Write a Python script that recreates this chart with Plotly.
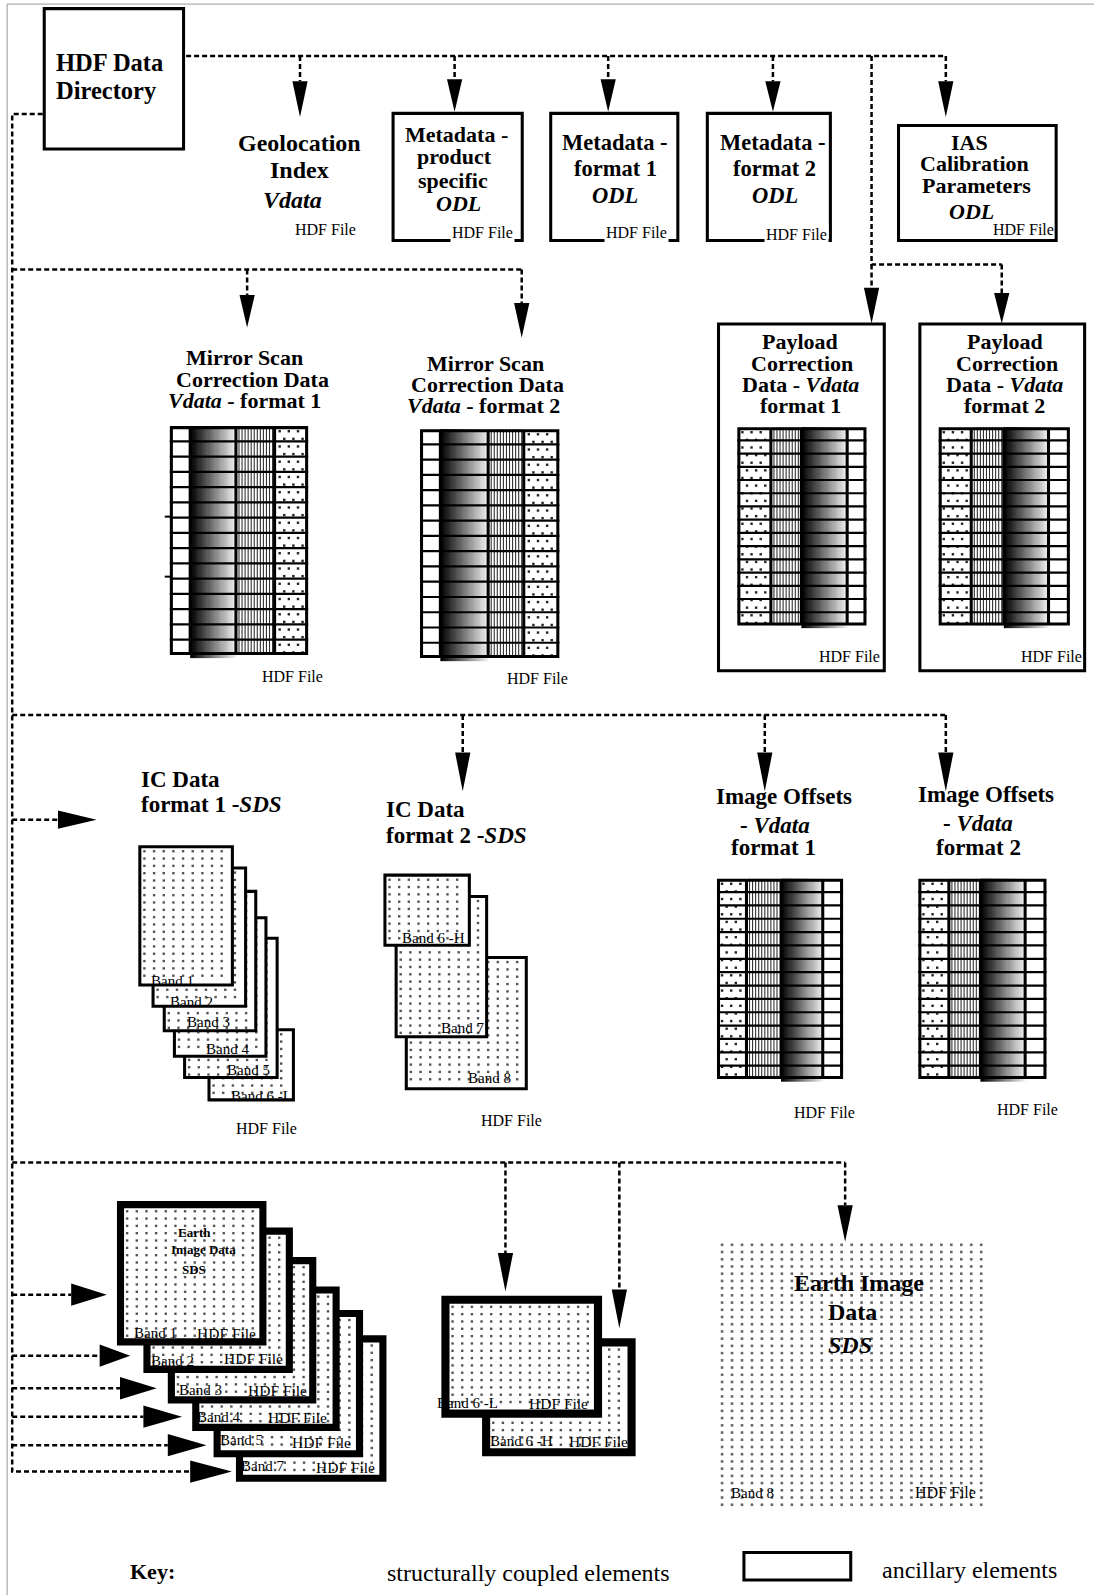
import numpy as np
import plotly.graph_objects as go

# ---------------- text content ----------------
directory_lines = ["HDF Data", "Directory"]
geolocation_lines = ["Geolocation", "Index", "<i>Vdata</i>"]
meta_product_lines = ["Metadata -", "product", "specific", "<i>ODL</i>"]
meta_fmt1_lines = ["Metadata -", "format 1", "<i>ODL</i>"]
meta_fmt2_lines = ["Metadata -", "format 2", "<i>ODL</i>"]
ias_lines = ["IAS", "Calibration", "Parameters", "<i>ODL</i>"]
mirror1_lines = ["Mirror Scan", "Correction Data", "<i>Vdata</i> - format 1"]
mirror2_lines = ["Mirror Scan", "Correction Data", "<i>Vdata</i> - format 2"]
payload1_lines = ["Payload", "Correction", "Data - <i>Vdata</i>", "format 1"]
payload2_lines = ["Payload", "Correction", "Data - <i>Vdata</i>", "format 2"]
ic1_lines = ["IC Data", "format 1 -<i>SDS</i>"]
ic2_lines = ["IC Data", "format 2 -<i>SDS</i>"]
offsets1_lines = ["Image Offsets", "- <i>Vdata</i>", "format 1"]
offsets2_lines = ["Image Offsets", "- <i>Vdata</i>", "format 2"]
earth_big_lines = ["Earth Image", "Data", "<i>SDS</i>"]
earth_small_lines = ["Earth", "Image Data", "SDS"]
ic1_bands = ["Band 1", "Band 2", "Band 3", "Band 4", "Band 5", "Band 6 -L"]
ic2_bands = ["Band 6 -H", "Band 7", "Band 8"]
earth_bands = ["Band 1", "Band 2", "Band 3", "Band 4", "Band 5", "Band 7"]
earth6_bands = ["Band 6 -L", "Band 6 -H"]
earth_big_band = "Band 8"
file_label = "HDF File"
key_labels = ["Key:", "structurally coupled elements", "ancillary elements"]
rows_per_table = 15

# ---------------- page geometry ----------------
SCALE = 1.017
PAGE_W, PAGE_H = 1094, 1595
XMAX, YMAX = PAGE_W / SCALE, PAGE_H / SCALE
FONT = "Liberation Serif"

traces = []
annotations = []


def _path(polys):
    xs, ys = [], []
    for p in polys:
        for x, y in p:
            xs.append(x)
            ys.append(y)
        xs.append(None)
        ys.append(None)
    return xs, ys


def add_lines(polys, width, color="black", dash=None):
    xs, ys = _path(polys)
    traces.append(go.Scatter(x=xs, y=ys, mode="lines",
                             line=dict(color=color, width=width, dash=dash),
                             hoverinfo="skip"))


def add_fill(polys, color):
    xs, ys = _path(polys)
    traces.append(go.Scatter(x=xs, y=ys, mode="lines", fill="toself",
                             fillcolor=color, line=dict(width=0, color=color),
                             hoverinfo="skip"))


def rect(x0, y0, x1, y1):
    return [(x0, y0), (x1, y0), (x1, y1), (x0, y1), (x0, y0)]


def frame(x0, y0, x1, y1, t):
    return [rect(x0, y0, x1, y0 + t), rect(x0, y1 - t, x1, y1),
            rect(x0, y0, x0 + t, y1), rect(x1 - t, y0, x1, y1)]


def add_dots(x0, y0, x1, y1, dx, dy, size, color, stagger=False):
    xs, ys = [], []
    for j, y in enumerate(np.arange(y0, y1, dy)):
        off = dx / 2 if (stagger and j % 2) else 0
        for x in np.arange(x0 + off, x1, dx):
            xs.append(x)
            ys.append(y)
    traces.append(go.Scatter(x=xs, y=ys, mode="markers",
                             marker=dict(size=size, color=color, symbol="square",
                                         line=dict(width=0)),
                             hoverinfo="skip"))


def add_page(box, t):
    x0, y0, x1, y1 = box
    add_fill([rect(x0, y0, x1, y1)], "black")
    add_fill([rect(x0 + t, y0 + t, x1 - t, y1 - t)], "white")
    add_dots(x0 + t + 3, y0 + t + 3, x1 - t - 1, y1 - t - 1, 9.5, 7.2, 2.4, "#555")


def add_table(cols, y0, y1, n):
    left = min(c[1] for c in cols)
    right = max(c[2] for c in cols)
    for kind, a, b in cols:
        if kind == "grad":
            edges = np.linspace(a, b, 41)
            traces.append(go.Heatmap(x=edges, y=[y0, y1 + 3],
                                     z=[list(np.linspace(0, 1, 40))],
                                     colorscale=[[0, "#000000"], [1, "#f2f2f2"]],
                                     zmin=0, zmax=1, showscale=False,
                                     hoverinfo="skip"))
        elif kind == "stripe":
            add_lines([[(x, y0), (x, y1)] for x in np.arange(a + 3, b - 1.5, 3.0)],
                      1.1, "#333")
        elif kind == "dots":
            add_dots(a + 5, y0 + 5, b - 3, y1 - 2, 9, 7.5, 2.4, "#222", stagger=True)
    ys = np.linspace(y0, y1, n + 1)
    add_lines([[(left, y), (right, y)] for y in ys[1:-1]], 2.2)
    edges_x = sorted(set([c[1] for c in cols] + [c[2] for c in cols]))
    add_fill(frame(left, y0, right, y1, 3) +
             [rect(x - 1.5, y0, x + 1.5, y1) for x in edges_x[1:-1]], "black")


def text(s, x, y, size, bold=True, anchor="center", bg=None):
    t = f"<b>{s}</b>" if bold else s
    ann = dict(x=x, y=y, xref="x", yref="y", text=t, showarrow=False,
               xanchor=anchor, yanchor="middle",
               font=dict(family=FONT, size=size, color="black"))
    if bg:
        ann["bgcolor"] = bg
        ann["borderpad"] = 1
    annotations.append(ann)


def block(lines, pos, size, bold=True, anchor="center"):
    for s, (x, y) in zip(lines, pos):
        text(s, x, y, size, bold, anchor)


# ---------------- outer frame ----------------
add_lines([[(7, YMAX), (7, 4), (XMAX, 4)]], 1, "#999")

# ---------------- ancillary boxes ----------------
ancillary_boxes = [(42, 7, 182, 148), (385, 110, 515, 238), (540, 110, 668, 238),
                   (694, 110, 818, 238), (882, 122, 1040, 238),
                   (705, 317, 871, 661), (903, 317, 1068, 661),
                   (730, 1525, 838, 1555)]
polys = []
for b in ancillary_boxes:
    polys += frame(*b, 3)
add_fill(polys, "black")

# ---------------- dashed connectors ----------------
connectors = [
    [(183, 55), (930, 55)],
    [(295, 55), (295, 80)], [(447, 55), (447, 78)], [(598, 55), (598, 78)],
    [(760, 55), (760, 80)], [(930, 55), (930, 80)],
    [(857, 55), (857, 260), (985, 260)],
    [(857, 260), (857, 283)], [(985, 260), (985, 288)],
    [(42, 112), (12, 112), (12, 1447), (187, 1447)],
    [(12, 265), (513, 265)], [(243, 265), (243, 290)], [(513, 265), (513, 298)],
    [(12, 703), (930, 703)], [(455, 703), (455, 740)], [(752, 703), (752, 740)],
    [(930, 703), (930, 740)],
    [(12, 806), (57, 806)],
    [(12, 1143), (831, 1143)], [(497, 1143), (497, 1232)], [(609, 1143), (609, 1268)],
    [(831, 1143), (831, 1185)],
    [(12, 1273), (70, 1273)], [(12, 1333), (98, 1333)], [(12, 1365), (118, 1365)],
    [(12, 1393), (141, 1393)], [(12, 1421), (165, 1421)],
]
add_lines(connectors, 2.5, "black", dash="5px,3px")

down_heads = [(295, 80, 115), (447, 78, 110), (598, 78, 110), (760, 80, 110),
              (930, 80, 115), (243, 290, 322), (513, 298, 332), (857, 283, 318),
              (985, 288, 318), (455, 740, 778), (752, 740, 778), (930, 740, 778),
              (497, 1232, 1270), (609, 1268, 1306), (831, 1185, 1221)]
right_heads = [(806, 57, 95, 9), (1273, 70, 105, 11), (1333, 98, 128, 11),
               (1365, 118, 154, 11), (1393, 141, 179, 11), (1421, 165, 203, 11),
               (1447, 187, 228, 11)]
heads = [[(x - 7.5, a), (x + 7.5, a), (x, b), (x - 7.5, a)] for x, a, b in down_heads]
heads += [[(a, y - h), (b, y), (a, y + h), (a, y - h)] for y, a, b, h in right_heads]
add_fill(heads, "black")

# ---------------- tables ----------------
tables = [
    ([("white", 167, 187), ("grad", 187, 232), ("stripe", 232, 270), ("dots", 270, 303)], 419, 644),
    ([("white", 413, 433), ("grad", 433, 480), ("stripe", 480, 515), ("dots", 515, 550)], 422, 647),
    ([("dots", 725, 758), ("stripe", 758, 788), ("grad", 788, 833), ("white", 833, 852)], 420, 615),
    ([("dots", 923, 955), ("stripe", 955, 987), ("grad", 987, 1031), ("white", 1031, 1052)], 420, 615),
    ([("dots", 705, 734), ("stripe", 734, 768), ("grad", 768, 809), ("white", 809, 829)], 864, 1061),
    ([("dots", 903, 933), ("stripe", 933, 964), ("grad", 964, 1008), ("white", 1008, 1029)], 864, 1061),
]
for cols, y0, y1 in tables:
    add_table(cols, y0, y1, rows_per_table)
add_lines([[(162, 508), (168, 508)], [(162, 567), (168, 567)]], 2)

# ---------------- IC data page stacks ----------------
ic1_pages = [(136, 831, 230, 970), (149, 852, 243, 991), (160, 875, 253, 1015),
             (170, 901, 263, 1040), (180, 921, 274, 1061), (204, 1011, 290, 1083)]
for b in reversed(ic1_pages):
    add_page(b, 3)
ic2_pages = [(377, 859, 463, 931), (388, 880, 480, 1021), (398, 940, 519, 1072)]
for b in reversed(ic2_pages):
    add_page(b, 3)

# ---------------- Earth image page stacks ----------------
earth_pages = [(115, 1181, 262, 1323), (141, 1207, 288, 1350), (165, 1236, 311, 1380),
               (189, 1265, 334, 1407), (210, 1288, 357, 1433), (232, 1313, 380, 1457)]
for b in reversed(earth_pages):
    add_page(b, 7)
earth6_pages = [(434, 1274, 592, 1394), (474, 1316, 625, 1432)]
for b in reversed(earth6_pages):
    add_page(b, 8)

add_dots(710, 1224, 972, 1482, 9.8, 7.1, 2.6, "#666")

# ---------------- labels ----------------
block(directory_lines, [(53, 61), (53, 89)], 24.5, anchor="left")
block(geolocation_lines, [(294, 141), (294, 167), (288, 197)], 24)
block(meta_product_lines, [(449, 132), (447, 154), (445, 177), (451, 200)], 22)
block(meta_fmt1_lines, [(605, 140), (605, 166), (605, 192)], 22.5)
block(meta_fmt2_lines, [(760, 140), (762, 166), (762, 192)], 22.5)
block(ias_lines, [(953, 140), (958, 161), (960, 182), (955, 208)], 22)
block(mirror1_lines, [(240, 352), (248, 373), (240, 394)], 22)
block(mirror2_lines, [(477, 357), (479, 378), (475, 399)], 22)
block(payload1_lines, [(787, 336), (789, 357), (787, 378), (787, 399)], 22)
block(payload2_lines, [(988, 336), (990, 357), (988, 378), (988, 399)], 22)
block(ic1_lines, [(137, 766), (137, 791)], 23, anchor="left")
block(ic2_lines, [(378, 796), (378, 822)], 23, anchor="left")
block(offsets1_lines, [(771, 783), (762, 812), (761, 833)], 23)
block(offsets2_lines, [(970, 781), (962, 810), (962, 833)], 23)
block(earth_big_lines, [(845, 1262), (838, 1290), (836, 1323)], 24)
block(earth_small_lines, [(191, 1212), (200, 1229), (191, 1248)], 13)

file_positions = [(320, 226, False), (474, 229, True), (626, 229, True), (783, 231, True),
                  (1006, 226, False), (288, 665, False), (529, 667, False),
                  (835, 646, False), (1034, 646, False), (262, 1110, False),
                  (503, 1102, False), (811, 1094, False), (1010, 1091, False),
                  (930, 1468, False)]
for x, y, bg in file_positions:
    text(file_label, x, y, 16, bold=False, bg="white" if bg else None)

ic1_band_pos = [(170, 965), (188, 985), (205, 1005), (224, 1031), (244, 1052), (257, 1078)]
block(ic1_bands, ic1_band_pos, 15, bold=False)
ic2_band_pos = [(426, 922), (455, 1011), (481, 1060)]
block(ic2_bands, ic2_band_pos, 15, bold=False)

earth_band_pos = [(153, 1311), (170, 1338), (197, 1367), (215, 1393), (237, 1416), (258, 1441)]
earth_file_pos = [(223, 1311), (249, 1336), (273, 1367), (293, 1394), (316, 1418), (340, 1443)]
block(earth_bands, earth_band_pos, 15, bold=False)
block([file_label] * len(earth_bands), earth_file_pos, 15.5, bold=False)

block(earth6_bands, [(460, 1380), (513, 1417)], 15, bold=False)
block([file_label, file_label], [(549, 1380), (588, 1417)], 15.5, bold=False)
text(earth_big_band, 740, 1468, 15, bold=False)

text(key_labels[0], 150, 1545, 22, bold=True)
text(key_labels[1], 520, 1547, 24, bold=False)
text(key_labels[2], 953, 1544, 24, bold=False)

# ---------------- figure ----------------
fig = go.Figure(data=traces)
fig.update_layout(
    width=PAGE_W, height=PAGE_H,
    margin=dict(l=0, r=0, t=0, b=0),
    paper_bgcolor="white", plot_bgcolor="white",
    showlegend=False,
    xaxis=dict(range=[0, XMAX], visible=False, fixedrange=True),
    yaxis=dict(range=[YMAX, 0], visible=False, fixedrange=True),
    annotations=annotations,
)
fig.write_html("out.html", include_plotlyjs=True, full_html=True,
               config={"displayModeBar": False, "staticPlot": True},
               post_script="document.body.style.margin='0px';")
